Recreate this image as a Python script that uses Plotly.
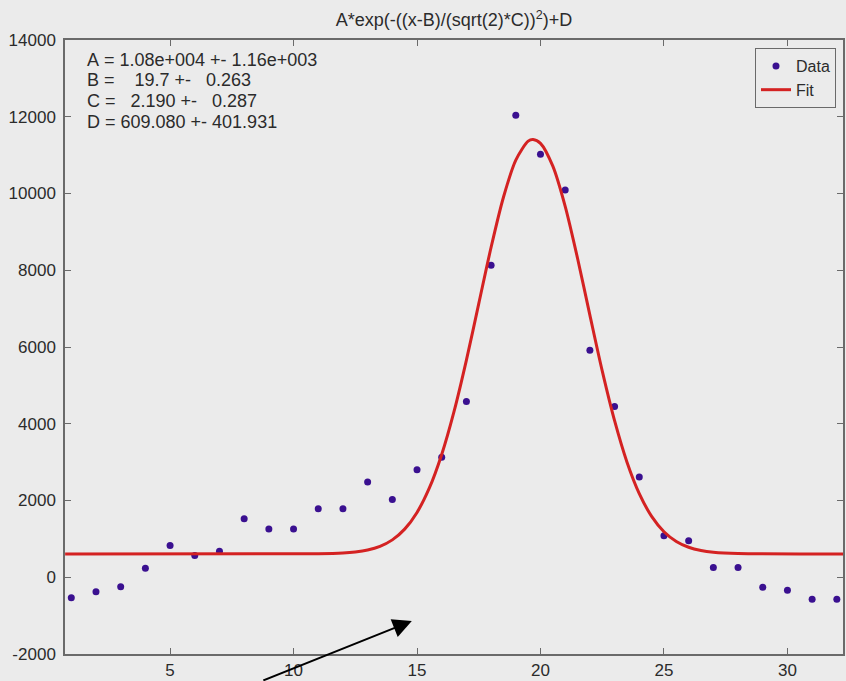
import plotly.graph_objects as go

# ---- data ----
x_data = list(range(1, 33))
y_data = [-535, -380, -250, 235, 830, 570, 675, 1525, 1255, 1255, 1785, 1785,
          2485, 2025, 2800, 3125, 4580, 8130, 12036, 11023, 10088, 5915, 4450,
          2615, 1083, 953, 252, 252, -260, -338, -571, -571]

x_fit = [0.75, 11, 12, 12.5, 13, 13.5, 14, 14.5, 15, 15.5, 16, 16.5, 17, 17.5,
         18, 18.5, 19, 19.5, 19.7, 20, 20.5, 21, 21.5, 22, 22.5, 23, 23.5, 24,
         24.5, 25, 25.5, 26, 26.5, 27, 28, 32.25]
y_fit = [609, 613, 631, 658, 709, 805, 974, 1254, 1689, 2327, 3201, 4322, 5660,
         7129, 8599, 9903, 10871, 11364, 11409, 11308, 10712, 9665, 8313, 6831,
         5378, 4079, 3005, 2180, 1587, 1187, 933, 781, 696, 651, 617, 609]

x_ticks = [5, 10, 15, 20, 25, 30]
x_tick_labels = ["5", "10", "15", "20", "25", "30"]
y_ticks = [-2000, 0, 2000, 4000, 6000, 8000, 10000, 12000, 14000]
y_tick_labels = ["-2000", "0", "2000", "4000", "6000", "8000", "10000",
                 "12000", "14000"]

title_text = "A*exp(-((x-B)/(sqrt(2)*C))<sup>2</sup>)+D"
param_lines = [
    "A = 1.08e+004 +- 1.16e+003",
    "B =    19.7 +-   0.263",
    "C =   2.190 +-   0.287",
    "D = 609.080 +- 401.931",
]

BG = "#ebebeb"
AX = "#6a6a6a"
TXT = "#2b2b2b"
FONT = "Liberation Sans, Arial, sans-serif"

W, H = 846, 681
L, R, T, B = 65, 1, 40, 25
plot_h = H - T - B

fig = go.Figure()
fig.add_trace(go.Scatter(x=x_data, y=y_data, mode="markers", name="Data",
                         marker=dict(color="#3a1090", size=7)))
fig.add_trace(go.Scatter(x=x_fit, y=y_fit, mode="lines", name="Fit",
                         line=dict(color="#d42222", width=3, shape="spline",
                                   smoothing=0.8)))

annotations = []
line_y_px = [60, 80, 101, 122]
for txt, ypx in zip(param_lines, line_y_px):
    annotations.append(dict(
        text=txt.replace(" ", "\u00a0"), xref="paper", yref="paper",
        x=(85 - L) / (W - L - R), y=(H - B - ypx) / plot_h,
        xanchor="left", yanchor="middle", showarrow=False,
        font=dict(family=FONT, size=18, color=TXT)))

annotations.append(dict(
    x=14.79, y=-1143, xref="x", yref="y", text="", showarrow=True,
    ax=-150, ay=67, arrowhead=2, arrowsize=1.9, arrowwidth=2,
    arrowcolor="black", standoff=0))

fig.update_layout(
    width=W, height=H,
    margin=dict(l=L, r=R, t=T, b=B, pad=0),
    paper_bgcolor=BG, plot_bgcolor=BG,
    font=dict(family=FONT, size=17, color=TXT),
    title=dict(text=title_text, x=0.5, xref="paper", xanchor="center",
               y=1 - 20 / H, yref="container", yanchor="middle",
               font=dict(family=FONT, size=18, color=TXT)),
    xaxis=dict(range=[0.745, 32.25], tickvals=x_ticks, ticktext=x_tick_labels,
               showgrid=False, zeroline=False, showline=True, linecolor=AX,
               linewidth=1.5, mirror="ticks", ticks="inside", ticklen=6,
               tickcolor=AX, tickfont=dict(size=17, color=TXT)),
    yaxis=dict(range=[-2000, 14000], tickvals=y_ticks, ticktext=y_tick_labels,
               showgrid=False, zeroline=False, showline=True, linecolor=AX,
               linewidth=1.5, mirror="ticks", ticks="inside", ticklen=6,
               tickcolor=AX, tickfont=dict(size=17, color=TXT),
               ticklabelstandoff=4),
    legend=dict(x=0.991, y=0.987, xanchor="right", yanchor="top",
                bgcolor=BG, bordercolor=AX, borderwidth=1,
                font=dict(family=FONT, size=16, color=TXT),
                tracegroupgap=0),
    showlegend=True,
    annotations=annotations,
)

fig.write_html(
    "out.html",
    config={"displayModeBar": False},
    post_script="document.body.style.margin='0';"
                "document.body.style.overflow='hidden';",
)
